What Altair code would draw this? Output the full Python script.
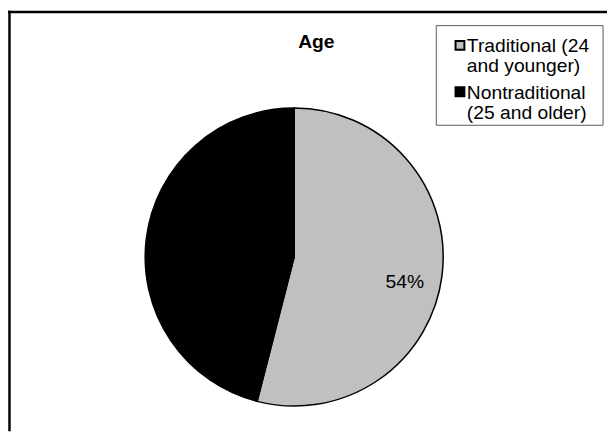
import altair as alt
import pandas as pd

# ---- data ----
title_text = "Age"
categories = ["Traditional (24 and younger)", "Nontraditional (25 and older)"]
legend_labels = ["Traditional (24\nand younger)", "Nontraditional\n(25 and older)"]
shares = [0.54, 0.46]
colors = ["#C0C0C0", "#000000"]

FONT = "Liberation Sans"

df = pd.DataFrame({
    "category": categories,
    "legend": legend_labels,
    "share": shares,
    "order": list(range(len(categories))),
})

color_scale = alt.Scale(domain=categories, range=colors)

W, H = 607, 426
CX, CY, R = 290, 249.5, 151

# outer frame (top and left edges visible)
frame_top = alt.Chart(alt.Data(values=[{"a": 1}])).mark_rule(
    color="black", strokeWidth=2.5
).encode(x=alt.value(0), x2=alt.value(W), y=alt.value(1.25))

frame_left = alt.Chart(alt.Data(values=[{"a": 1}])).mark_rule(
    color="black", strokeWidth=2.5
).encode(x=alt.value(1.5), y=alt.value(0), y2=alt.value(H))

# pie
pie = alt.Chart(df).mark_arc(radius=R, stroke="black", strokeWidth=1.5).encode(
    theta=alt.Theta("share:Q", stack=True),
    color=alt.Color("category:N", scale=color_scale, legend=None),
    order=alt.Order("order:Q"),
    x=alt.value(CX),
    y=alt.value(CY),
)

label = alt.Chart(df).transform_calculate(
    lbl="datum.order == 0 ? format(datum.share, '.0%') : ''"
).mark_text(radius=113, dy=11, fontSize=19.5, font=FONT, color="black").encode(
    theta=alt.Theta("share:Q", stack=True),
    order=alt.Order("order:Q"),
    text=alt.Text("lbl:N"),
    x=alt.value(CX),
    y=alt.value(CY),
)

# title
title = alt.Chart(alt.Data(values=[{"t": title_text}])).mark_text(
    fontSize=19.5, fontWeight="bold", font=FONT, color="black"
).encode(text="t:N", x=alt.value(312.5), y=alt.value(32))

# legend
legend_box = alt.Chart(alt.Data(values=[{"a": 1}])).mark_rect(
    fill="white", stroke="#595959", strokeWidth=1
).encode(x=alt.value(434), x2=alt.value(603), y=alt.value(15), y2=alt.value(116))

ypos = alt.Y("category:N", scale=alt.Scale(type="point", domain=categories, range=[35, 82], padding=0), axis=None)

legend_sq = alt.Chart(df).mark_square(size=81, stroke="black", strokeWidth=2, opacity=1).encode(
    x=alt.value(458),
    y=ypos,
    color=alt.Color("category:N", scale=color_scale, legend=None),
)

legend_txt = alt.Chart(df).mark_text(
    align="left", baseline="alphabetic", dy=7, lineBreak="\n", lineHeight=20.5,
    fontSize=19.5, font=FONT, color="black"
).encode(
    x=alt.value(465),
    y=ypos,
    text="legend:N",
)

chart = alt.layer(
    frame_top, frame_left, pie, label, title, legend_box, legend_sq, legend_txt
).properties(
    width=W, height=H, autosize="none", padding=0
).configure_view(stroke=None)

chart.save("out.html", embed_options={"renderer": "svg", "actions": False})
